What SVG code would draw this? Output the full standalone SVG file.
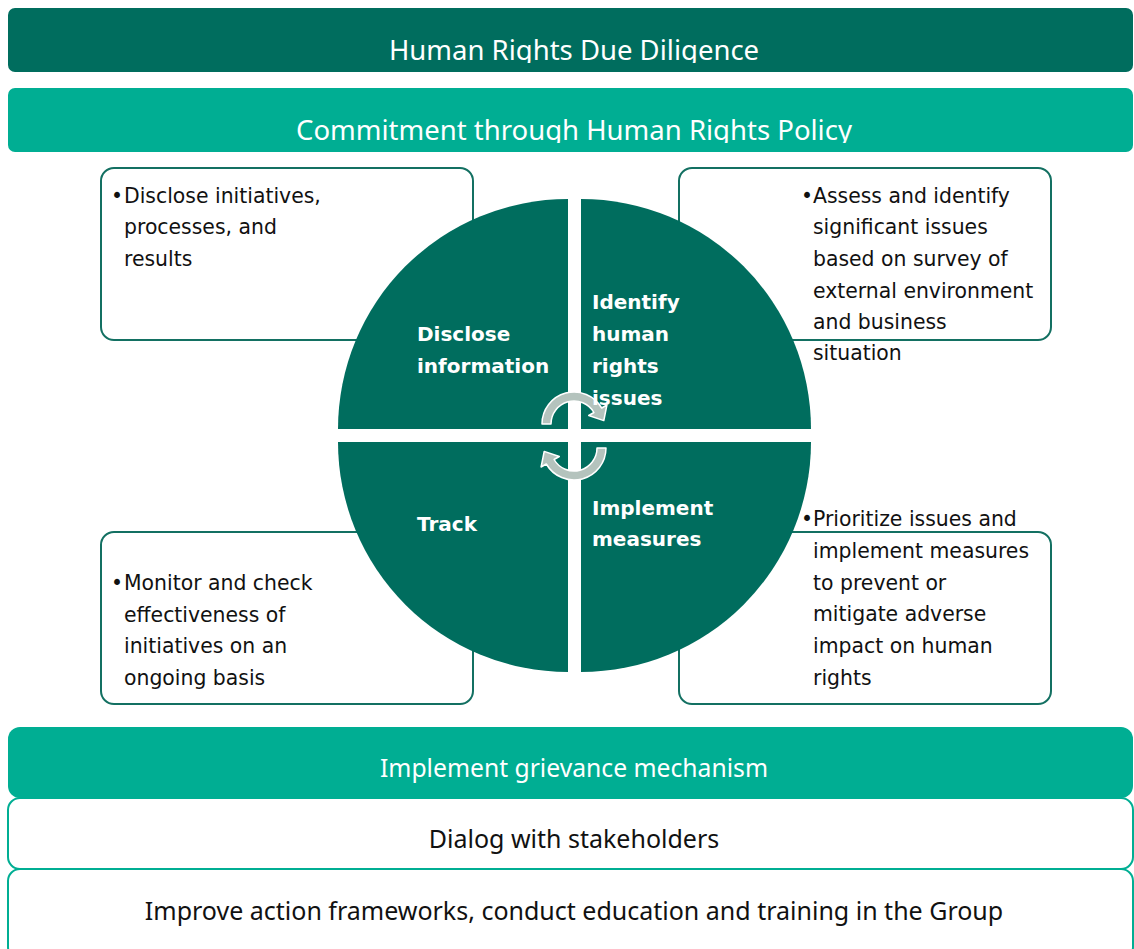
<svg xmlns="http://www.w3.org/2000/svg" width="1134" height="949" viewBox="0 0 1134 949">
  <style>
    .bar-dark { fill: #006d5e; }
    .bar-teal { fill: #00ae93; }
    .head { font-family: "Noto Sans", "Open Sans", sans-serif; font-size: 27.5px; fill: #ffffff; text-anchor: middle; }
    .foot { font-family: "Noto Sans", "Open Sans", sans-serif; font-size: 25px; fill: #111111; text-anchor: middle; }
    .box { fill: #ffffff; stroke: #137062; stroke-width: 2; }
    .band { fill: #ffffff; stroke: #00ae93; stroke-width: 2; }
    .quad { fill: #006d5e; }
    .body { font-family: "DejaVu Sans", Verdana, sans-serif; font-size: 20.4px; fill: #111111; }
    .label { font-family: "DejaVu Sans", Verdana, sans-serif; font-size: 20px; font-weight: bold; fill: #ffffff; }
    .cycle { fill: #b4c3bd; stroke: #ffffff; stroke-width: 1.5; stroke-linejoin: round; }
  </style>
  <defs>
    <clipPath id="clip-title"><rect x="0" y="8" width="1134" height="55"/></clipPath>
    <clipPath id="clip-policy"><rect x="0" y="88" width="1134" height="55"/></clipPath>
    <!-- curved cycle arrow, centred on its arc -->
    <path id="cycle-arrow" d="M -32 0 A 32 32 0 0 1 27.71 -16 L 32.91 -19 L 29.8 -3.4 L 14.72 -8.5 L 19.92 -11.5 A 23 23 0 0 0 -23 0 Z"/>
  </defs>

  <rect width="1134" height="949" fill="#ffffff"/>

  <g id="title">
    <rect class="bar-dark" x="8" y="8" width="1125" height="64" rx="7"/>
    <text class="head" x="574" y="60" clip-path="url(#clip-title)">Human Rights Due Diligence</text>
  </g>

  <g id="policy">
    <rect class="bar-teal" x="8" y="88" width="1125" height="64" rx="7"/>
    <text class="head" x="574" y="140" clip-path="url(#clip-policy)">Commitment through Human Rights Policy</text>
  </g>

  <!-- description boxes (behind the circle) -->
  <g id="box-disclose">
    <rect class="box" x="101" y="168" width="372" height="172" rx="13"/>
  </g>
  <g id="box-identify">
    <rect class="box" x="679" y="168" width="372" height="172" rx="13"/>
  </g>
  <g id="box-track">
    <rect class="box" x="101" y="532" width="372" height="172" rx="13"/>
  </g>
  <g id="box-implement">
    <rect class="box" x="679" y="532" width="372" height="172" rx="13"/>
  </g>

  <!-- four quadrants of the cycle -->
  <g id="quad-disclose">
    <path class="quad" d="M 568 429 L 338 429 A 230 230 0 0 1 568 199 Z"/>
    <text class="label" x="417" y="341">Disclose</text>
    <text class="label" x="417" y="373">information</text>
  </g>
  <g id="quad-identify">
    <path class="quad" d="M 581 429 L 581 199 A 230 230 0 0 1 811 429 Z"/>
  </g>
  <g id="quad-track">
    <path class="quad" d="M 568 442 L 568 672 A 230 230 0 0 1 338 442 Z"/>
    <text class="label" x="417" y="531">Track</text>
  </g>
  <g id="quad-implement">
    <path class="quad" d="M 581 442 L 811 442 A 230 230 0 0 1 581 672 Z"/>
    <text class="label" x="592" y="515">Implement</text>
    <text class="label" x="592" y="546">measures</text>
  </g>

  <g id="connectors">
    <use href="#cycle-arrow" class="cycle" transform="translate(574 424)"/>
    <use href="#cycle-arrow" class="cycle" transform="translate(574 448) rotate(180)"/>
  </g>

  <g id="identify-label">
    <text class="label" x="592" y="309">Identify</text>
    <text class="label" x="592" y="341">human</text>
    <text class="label" x="592" y="373">rights</text>
    <text class="label" x="592" y="405">issues</text>
  </g>

  <!-- box texts -->
  <g id="text-disclose" class="body">
    <text x="111" y="203">•</text>
    <text x="124" y="203">Disclose initiatives,</text>
    <text x="124" y="234">processes, and</text>
    <text x="124" y="266">results</text>
  </g>
  <g id="text-identify" class="body">
    <text x="801" y="203">•</text>
    <text x="813" y="203">Assess and identify</text>
    <text x="813" y="234">significant issues</text>
    <text x="813" y="266">based on survey of</text>
    <text x="813" y="298">external environment</text>
    <text x="813" y="329">and business</text>
    <text x="813" y="360">situation</text>
  </g>
  <g id="text-track" class="body">
    <text x="111" y="590">•</text>
    <text x="124" y="590">Monitor and check</text>
    <text x="124" y="622">effectiveness of</text>
    <text x="124" y="653">initiatives on an</text>
    <text x="124" y="685">ongoing basis</text>
  </g>
  <g id="text-implement" class="body">
    <text x="801" y="526">•</text>
    <text x="813" y="526">Prioritize issues and</text>
    <text x="813" y="558">implement measures</text>
    <text x="813" y="590">to prevent or</text>
    <text x="813" y="621">mitigate adverse</text>
    <text x="813" y="653">impact on human</text>
    <text x="813" y="685">rights</text>
  </g>

  <g id="improve">
    <rect class="band" x="8" y="869" width="1125" height="90" rx="12"/>
    <text class="foot" x="574" y="920">Improve action frameworks, conduct education and training in the Group</text>
  </g>

  <g id="dialog">
    <rect class="band" x="8" y="798" width="1125" height="71" rx="12"/>
    <text class="foot" x="574" y="848">Dialog with stakeholders</text>
  </g>

  <g id="grievance">
    <rect class="bar-teal" x="8" y="727" width="1125" height="71" rx="12"/>
    <text class="head" x="574" y="777" style="font-size:24.7px">Implement grievance mechanism</text>
  </g>
</svg>
